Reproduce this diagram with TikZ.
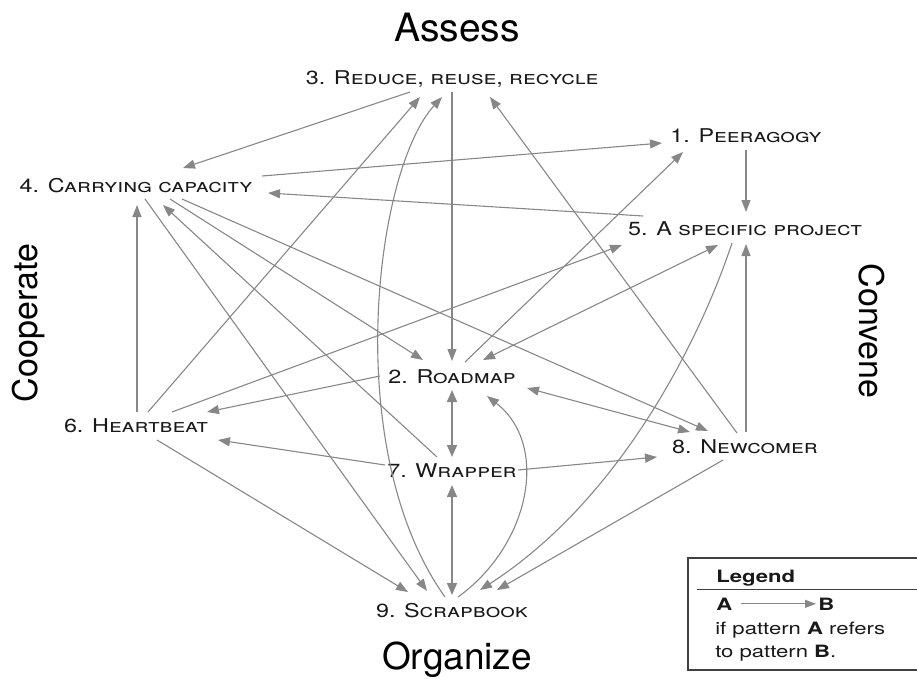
\documentclass[tikz,border=0pt]{standalone}
\usepackage{fontspec}
\setmainfont{TeX Gyre Heros}
\usetikzlibrary{arrows.meta,calc}
\definecolor{edgegray}{RGB}{135,135,135}
\definecolor{txt}{RGB}{25,25,25}
\tikzset{
  lbl/.style={anchor=base, inner sep=0pt, text=txt, font=\fontsize{19}{21}\selectfont\scshape, xscale=1.23, transform shape},
  ttl/.style={anchor=base, inner sep=0pt, text=black, font=\fontsize{39}{42}\selectfont},
  side/.style={anchor=center, inner sep=0pt, text=black, font=\fontsize{34}{38}\selectfont},
  leg/.style={anchor=base west, inner sep=0pt, text=txt, font=\fontsize{17}{19}\selectfont, xscale=1.3, transform shape},
  edge/.style={draw=edgegray, line width=1.1pt, -{Triangle[length=12pt,width=9pt]}},
  dedge/.style={draw=edgegray, line width=1.6pt, {Triangle[length=12pt,width=10pt]}-{Triangle[length=12pt,width=10pt]}},
  legbox/.style={draw=black!75, line width=1.2pt}
}
\begin{document}
\begin{tikzpicture}[x=1pt,y=-1pt]
\path[use as bounding box] (0,0) rectangle (917,678);
% titles
\node[ttl] (tA) at (457,41) {Assess};
\node[ttl, font=\fontsize{37}{40}\selectfont] (tO) at (457,669) {Organize};
\node[side, rotate=90] (tC) at (29,323) {Cooperate};
\node[side, rotate=-90] (tV) at (872,331) {Convene};
% pattern nodes
\node[lbl] (n3) at (452,84) {3. Reduce, reuse, recycle};
\node[lbl] (n1) at (746,142) {1. Peeragogy};
\node[lbl] (n4) at (136,192) {4. Carrying capacity};
\node[lbl] (n5) at (745,235) {5. A specific project};
\node[lbl] (n2) at (452,383) {2. Roadmap};
\node[lbl] (n6) at (136,432) {6. Heartbeat};
\node[lbl] (n7) at (452,477) {7. Wrapper};
\node[lbl] (n8) at (745,453) {8. Newcomer};
\node[lbl] (n9) at (452,617) {9. Scrapbook};
% connectors
\draw[edge] ($(n1.base)+(0,8)$) -- ($(n5.base)+(1,-23)$);
\draw[edge] ($(n2.base)+(13,-21)$) -- ($(n1.base)+(-63,10)$);
\draw[edge] ($(n2.base)+(-72,-7)$) -- ($(n6.base)+(71,-20)$);
\draw[edge,{Triangle[length=12pt,width=9pt]}-{Triangle[length=12pt,width=9pt]}] ($(n2.base)+(31,-23)$) -- ($(n5.base)+(-27,10)$);
\draw[edge,{Triangle[length=12pt,width=9pt]}-{Triangle[length=12pt,width=9pt]}] ($(n2.base)+(75,5)$) -- ($(n8.base)+(-55,-21)$);
\draw[dedge] ($(n2.base)+(0,7)$) -- ($(n7.base)+(0,-20)$);
\draw[edge] ($(n3.base)+(0,8)$) -- ($(n2.base)+(0,-22)$);
\draw[edge] ($(n3.base)+(-42,8)$) -- ($(n4.base)+(47,-24)$);
\draw[edge] ($(n4.base)+(126,-16)$) -- ($(n1.base)+(-84,1)$);
\draw[edge] ($(n4.base)+(34,7)$) -- ($(n2.base)+(-29,-23)$);
\draw[edge] ($(n4.base)+(46,7)$) -- ($(n8.base)+(-37,-22)$);
\draw[edge] ($(n4.base)+(9,7)$) -- ($(n9.base)+(-25,-26)$);
\draw[edge] ($(n5.base)+(-102,-19)$) -- ($(n4.base)+(132,1)$);
\draw[edge] ($(n5.base)+(-13,8)$) .. controls ($(n5.base)+(-45,105)$) and ($(n9.base)+(168,-117)$) .. ($(n9.base)+(28,-27)$);
\draw[edge] ($(n6.base)+(12,-20)$) -- ($(n3.base)+(-32,13)$);
\draw[edge] ($(n6.base)+(1,-20)$) -- ($(n4.base)+(1,13)$);
\draw[edge] ($(n6.base)+(36,-20)$) -- ($(n5.base)+(-123,10)$);
\draw[edge] ($(n6.base)+(21,8)$) -- ($(n9.base)+(-44,-25)$);
\draw[edge] ($(n7.base)+(-15,-20)$) -- ($(n4.base)+(27,13)$);
\draw[edge] ($(n7.base)+(-67,-12)$) -- ($(n6.base)+(82,8)$);
\draw[edge] ($(n7.base)+(66,-7)$) -- ($(n8.base)+(-88,4)$);
\draw[dedge] ($(n7.base)+(0,8)$) -- ($(n9.base)+(0,-22)$);
\draw[edge] ($(n8.base)+(-8,-20)$) -- ($(n3.base)+(38,13)$);
\draw[edge] ($(n8.base)+(1,-21)$) -- ($(n5.base)+(1,9)$);
\draw[edge] ($(n8.base)+(-22,7)$) -- ($(n9.base)+(45,-27)$);
\draw[edge] ($(n9.base)+(-7,-20)$) .. controls ($(n9.base)+(-112,-167)$) and ($(n3.base)+(-77,86)$) .. ($(n3.base)+(-10,13)$);
\draw[edge] ($(n9.base)+(6,-20)$) .. controls ($(n9.base)+(78,-72)$) and ($(n2.base)+(98,62)$) .. ($(n2.base)+(35,13)$);
% legend
\draw[legbox] (688,558) rectangle (930,670);
\draw[black!75, line width=1pt] (697,589) -- (930,589);
\node[leg, font=\fontsize{17}{19}\selectfont\bfseries] (lt) at (716,582) {Legend};
\node[leg, font=\fontsize{17}{19}\selectfont\bfseries] (la) at (716,610) {A};
\node[leg, font=\fontsize{17}{19}\selectfont\bfseries] (lb) at (818,610) {B};
\draw[edge, line width=1pt, -{Triangle[length=11pt,width=8pt]}] ($(la.east)+(9,0)$) -- ($(lb.west)+(-2,0)$);
\node[leg] (l1) at (715,634) {if pattern \textbf{A} refers};
\node[leg] (l2) at (715,657) {to pattern \textbf{B}.};
\end{tikzpicture}
\end{document}
